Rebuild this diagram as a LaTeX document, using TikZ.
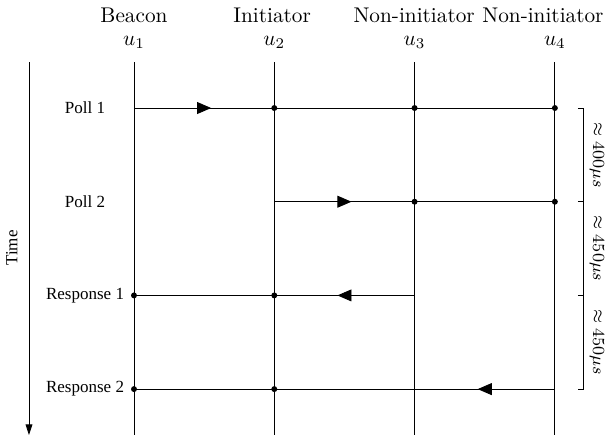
\documentclass[tikz,border=0pt]{standalone}
\usepackage{amsfonts, amssymb, amsmath}
\usepackage{fontspec}
\newfontfamily\timesfont{Liberation Serif}
\usetikzlibrary{arrows.meta}
\usetikzlibrary{decorations.markings}
\tikzset{l/.style={font=\fontsize{8}{8}\timesfont}}
\tikzset{m/.style={font=\fontsize{8}{8}\selectfont}}
\tikzset{msg/.style={postaction={decorate},
  decoration={markings,mark=at position 0.55 with {\arrow{Triangle[length=6.6pt,width=5.6pt]}}}}}
\tikzset{dot/.style={circle,fill,inner sep=0pt,minimum size=2.8pt}}

\begin{document}
\begin{tikzpicture}[x=2.318cm, y=1.548cm]
        \useasboundingbox (0.045,1.153) rectangle (4.393,-3.522);
        % the four nodes and their life lines
        \foreach \i/\name/\role/\rx in {1/u1/Beacon/1, 2/u2/Initiator/1.985,
            3/u3/Non-initiator/2.997, 4/u4/Non-initiator/3.915} {
          \node (\name) at (\i,0.704) {$u_\i$};
          \node (\name role) at (\rx,0.9925) {\role};
          \coordinate (\name top) at (\i,0.491);
          \coordinate (\name bot) at (\i,-3.49);
          \draw (\name top) -- (\name bot);
          \foreach \j in {0,...,3}
            \coordinate (\name-\j) at (\i,-\j);
        }
        % time axis
        \coordinate (t0) at (0.2516,0.491);
        \coordinate (t1) at (0.2516,-3.49);
        \draw [-{Triangle[length=5pt,width=3.2pt]}] (t0) -- (t1);
        \node [l, rotate=90] (time) at (0.130,-1.494) {Time};
        % messages
        \node [l] (poll1) at (0.651,0) {Poll 1};
        \node [l] (poll2) at (0.651,-1) {Poll 2};
        \node [l] (resp1) at (0.651,-2) {Response 1};
        \node [l] (resp2) at (0.651,-3) {Response 2};
        \draw [msg] (u1-0) -- (u2-0);
        \draw (u2-0) -- (u4-0);
        \draw [msg] (u2-1) -- (u3-1);
        \draw (u3-1) -- (u4-1);
        \draw [msg] (u3-2) -- (u2-2);
        \draw (u2-2) -- (u1-2);
        \draw [msg] (u4-3) -- (u3-3);
        \draw (u3-3) -- (u1-3);
        \foreach \p in {u2-0, u3-0, u4-0, u3-1, u4-1, u2-2, u1-2, u2-3, u1-3}
          \node [dot] at (\p) {};
        % timing bracket
        \foreach \j in {0,...,3} {
          \coordinate (b\j) at (4.2,-\j);
          \coordinate (k\j) at (4.164,-\j);
        }
        \draw (k0) -- (b0) -- (b3) -- (k3);
        \draw (k1) -- (b1);
        \draw (k2) -- (b2);
        \node [m, rotate=-90] (d1) at (4.30,-0.5) {$\approx 400\mu s$};
        \node [m, rotate=-90] (d2) at (4.30,-1.5) {$\approx 450\mu s$};
        \node [m, rotate=-90] (d3) at (4.30,-2.5) {$\approx 450\mu s$};
      \end{tikzpicture}
\end{document}
